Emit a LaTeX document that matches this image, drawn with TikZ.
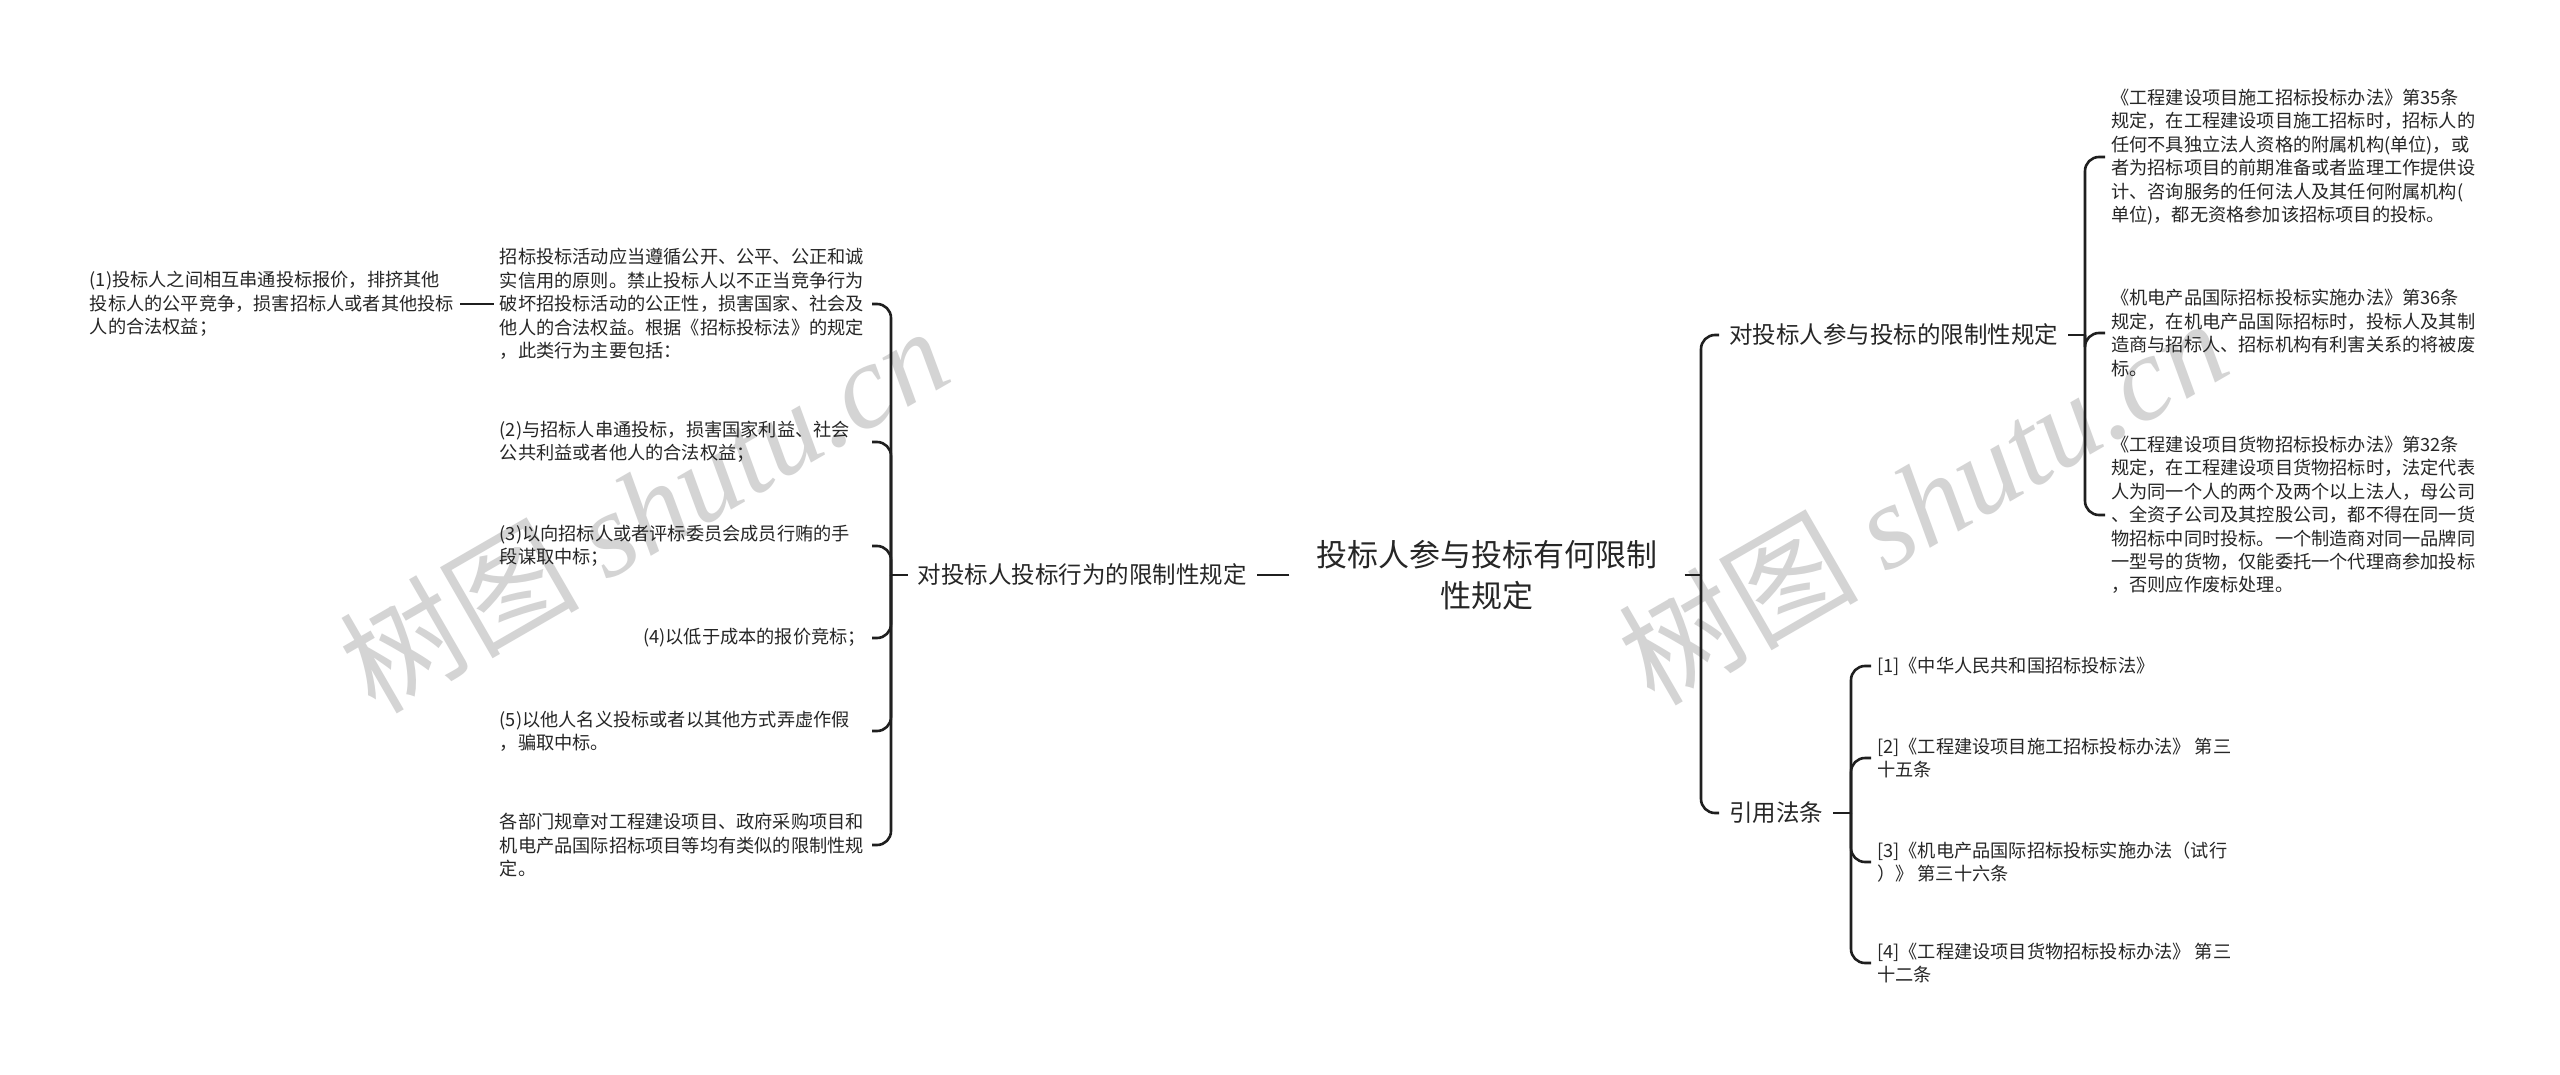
\documentclass[tikz,border=0pt]{standalone}
\usepackage{fontspec}
\setmainfont{Noto Sans CJK SC}
\newfontfamily\wmserif{Liberation Serif}
\begin{document}
\begin{tikzpicture}[x=1pt,y=-1pt]
\tikzset{
  conn/.style={draw=black!88, line width=2.6pt, rounded corners=14pt},
  leaf/.style={font=\fontsize{18.2}{23.4}\selectfont, text=black!85, inner xsep=6pt, inner ysep=2pt, align=left},
  leafw/.style={leaf, text width=366pt},
  lvl/.style={font=\fontsize{23.5}{30}\selectfont, text=black!85, inner xsep=10pt},
  rootn/.style={font=\fontsize{31}{41}\selectfont, text=black!85, align=center, inner xsep=27pt},
  wm/.style={text=black!17, font=\fontsize{120}{120}\selectfont, inner sep=0pt},
}
\useasboundingbox (0,0) rectangle (2560,1075);
\fill[white] (0,0) rectangle (2560,1075);
% watermarks
\node[wm, rotate=30] (wm1) at (643,508) {树图 {\wmserif\itshape shutu.cn}};
\node[wm, rotate=30] (wm2) at (1922,500) {树图 {\wmserif\itshape shutu.cn}};

% root
\node[rootn] (root) at (1487,575) {投标人参与投标有何限制\\性规定};

% left branch
\node[lvl, anchor=east] (L) at (1257,575) {对投标人投标行为的限制性规定};
\coordinate (bl) at (891,575);
\node[leafw, anchor=east] (c1) at (872,304) {招标投标活动应当遵循公开、公平、公正和诚\\实信用的原则。禁止投标人以不正当竞争行为\\破坏招投标活动的公正性，损害国家、社会及\\他人的合法权益。根据《招标投标法》的规定\\，此类行为主要包括：};
\node[leafw, anchor=east] (c2) at (872,442) {(2)与招标人串通投标，损害国家利益、社会\\公共利益或者他人的合法权益；};
\node[leafw, anchor=east] (c3) at (872,546) {(3)以向招标人或者评标委员会成员行贿的手\\段谋取中标；};
\node[leaf, anchor=east] (c4) at (872,638) {(4)以低于成本的报价竞标；};
\node[leafw, anchor=east] (c5) at (872,731) {(5)以他人名义投标或者以其他方式弄虚作假\\，骗取中标。};
\node[leafw, anchor=east] (c6) at (872,845) {各部门规章对工程建设项目、政府采购项目和\\机电产品国际招标项目等均有类似的限制性规\\定。};
\node[leaf, anchor=east] (g1) at (460,304) {(1)投标人之间相互串通投标报价，排挤其他\\投标人的公平竞争，损害招标人或者其他投标\\人的合法权益；};

\draw[conn] (root.west) -- (L.east);
\draw[conn] (L.west) -- (bl);
\foreach \c in {c1,c2,c3,c4,c5,c6} { \draw[conn] (bl) |- (\c.east); }
\draw[conn] (c1.west) -- (g1.east);

% right branch
\coordinate (br) at (1701,575);
\node[lvl, anchor=west] (A) at (1719,335) {对投标人参与投标的限制性规定};
\node[lvl, anchor=west] (B) at (1719,813) {引用法条};
\draw[conn] (root.east) -- (br);
\draw[conn] (br) |- (A.west);
\draw[conn] (br) |- (B.west);

\coordinate (ba) at (2085,335);
\node[leafw, anchor=west] (a1) at (2105,157) {《工程建设项目施工招标投标办法》第35条\\规定，在工程建设项目施工招标时，招标人的\\任何不具独立法人资格的附属机构(单位)，或\\者为招标项目的前期准备或者监理工作提供设\\计、咨询服务的任何法人及其任何附属机构(\\单位)，都无资格参加该招标项目的投标。};
\node[leafw, anchor=west] (a2) at (2105,333) {《机电产品国际招标投标实施办法》第36条\\规定，在机电产品国际招标时，投标人及其制\\造商与招标人、招标机构有利害关系的将被废\\标。};
\node[leafw, anchor=west] (a3) at (2105,515) {《工程建设项目货物招标投标办法》第32条\\规定，在工程建设项目货物招标时，法定代表\\人为同一个人的两个及两个以上法人，母公司\\、全资子公司及其控股公司，都不得在同一货\\物招标中同时投标。一个制造商对同一品牌同\\一型号的货物，仅能委托一个代理商参加投标\\，否则应作废标处理。};
\draw[conn] (A.east) -- (ba);
\foreach \c in {a1,a2,a3} { \draw[conn] (ba) |- (\c.west); }

\coordinate (bb) at (1851,813);
\node[leaf, anchor=west] (b1) at (1871,666) {[1]《中华人民共和国招标投标法》};
\node[leaf, anchor=west] (b2) at (1871,758) {[2]《工程建设项目施工招标投标办法》 第三\\十五条};
\node[leaf, anchor=west] (b3) at (1871,862) {[3]《机电产品国际招标投标实施办法（试行\\）》 第三十六条};
\node[leaf, anchor=west] (b4) at (1871,963) {[4]《工程建设项目货物招标投标办法》 第三\\十二条};
\draw[conn] (B.east) -- (bb);
\foreach \c in {b1,b2,b3,b4} { \draw[conn] (bb) |- (\c.west); }
\end{tikzpicture}
\end{document}
